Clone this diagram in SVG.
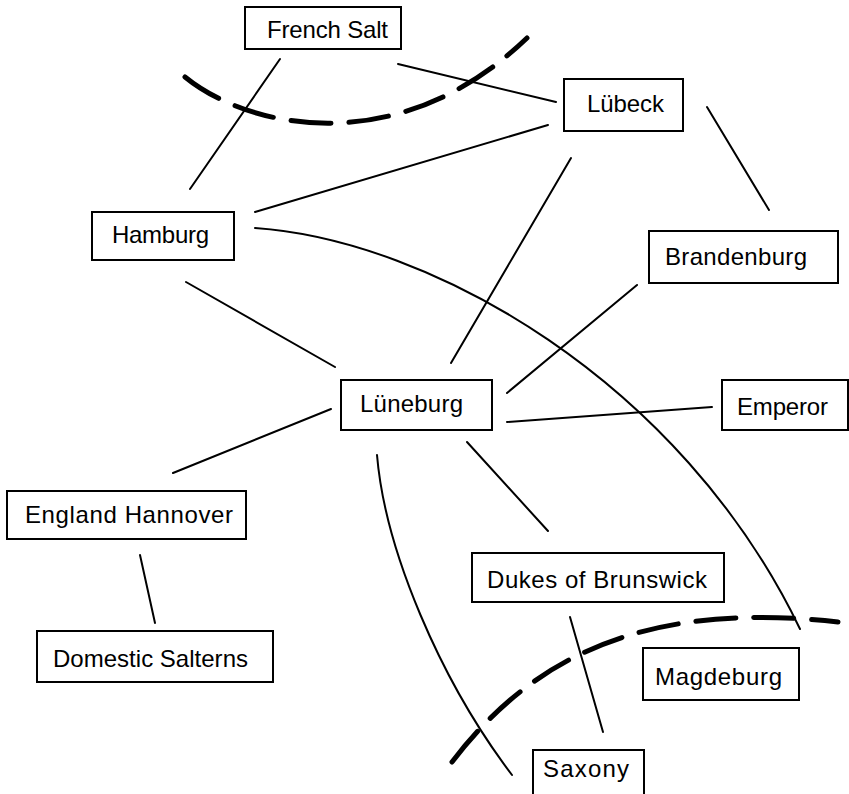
<svg xmlns="http://www.w3.org/2000/svg" width="849" height="794" viewBox="0 0 849 794">
<style>
.box{fill:#fff;stroke:#000;stroke-width:2}
.lbl{font-family:"Liberation Sans",Arial,sans-serif;font-size:24px;fill:#000}
.edge{fill:none;stroke:#000;stroke-width:2;stroke-linecap:round}
.border{fill:none;stroke:#000;stroke-width:5;stroke-dasharray:40 18;stroke-linecap:round}
</style>
<rect width="849" height="794" fill="#fff"/>
<g id="borders">
<path class="border" d="M185,77 C250,130 400,160 527,38"/>
<path class="border" d="M452,762 C530,660 640,600 838,622"/>
</g>
<g id="connectors">
<line class="edge" x1="280" y1="59" x2="190" y2="189"/>
<line class="edge" x1="398" y1="64" x2="556" y2="102"/>
<line class="edge" x1="255" y1="212" x2="548" y2="125"/>
<path class="edge" d="M255,228 C430,240 680,380 800,629"/>
<line class="edge" x1="186" y1="282" x2="335" y2="367"/>
<line class="edge" x1="571" y1="158" x2="451" y2="363"/>
<line class="edge" x1="707" y1="107" x2="769" y2="210"/>
<line class="edge" x1="637" y1="285" x2="507" y2="393"/>
<line class="edge" x1="507" y1="422" x2="712" y2="407"/>
<line class="edge" x1="331" y1="409" x2="173" y2="473"/>
<line class="edge" x1="467" y1="442" x2="548" y2="531"/>
<path class="edge" d="M377,455 C385,550 440,680 512,775"/>
<line class="edge" x1="570" y1="617" x2="603" y2="732"/>
<line class="edge" x1="140" y1="555" x2="155" y2="623"/>
</g>
<g id="french-salt"><rect class="box" x="245" y="7" width="156" height="42"/><text class="lbl" x="267" y="38" textLength="121">French Salt</text></g>
<g id="luebeck"><rect class="box" x="564" y="79" width="119" height="52"/><text class="lbl" x="587" y="112" textLength="77">Lübeck</text></g>
<g id="brandenburg"><rect class="box" x="649" y="231" width="189" height="52"/><text class="lbl" x="665" y="265" textLength="142">Brandenburg</text></g>
<g id="hamburg"><rect class="box" x="92" y="212" width="142" height="48"/><text class="lbl" x="112" y="243" textLength="97">Hamburg</text></g>
<g id="lueneburg"><rect class="box" x="341" y="380" width="151" height="50"/><text class="lbl" x="360" y="412" textLength="103">Lüneburg</text></g>
<g id="emperor"><rect class="box" x="722" y="380" width="126" height="50"/><text class="lbl" x="737" y="415" textLength="91">Emperor</text></g>
<g id="england-hannover"><rect class="box" x="7" y="491" width="239" height="48"/><text class="lbl" x="25" y="523" textLength="208">England Hannover</text></g>
<g id="domestic-salterns"><rect class="box" x="37" y="631" width="236" height="51"/><text class="lbl" x="53" y="667" textLength="195">Domestic Salterns</text></g>
<g id="dukes-of-brunswick"><rect class="box" x="472" y="553" width="252" height="49"/><text class="lbl" x="487" y="588" textLength="220">Dukes of Brunswick</text></g>
<g id="magdeburg"><rect class="box" x="643" y="648" width="156" height="52"/><text class="lbl" x="655" y="685" textLength="127">Magdeburg</text></g>
<g id="saxony"><rect class="box" x="533" y="750" width="111" height="48"/><text class="lbl" x="543" y="777" textLength="86">Saxony</text></g>
</svg>
